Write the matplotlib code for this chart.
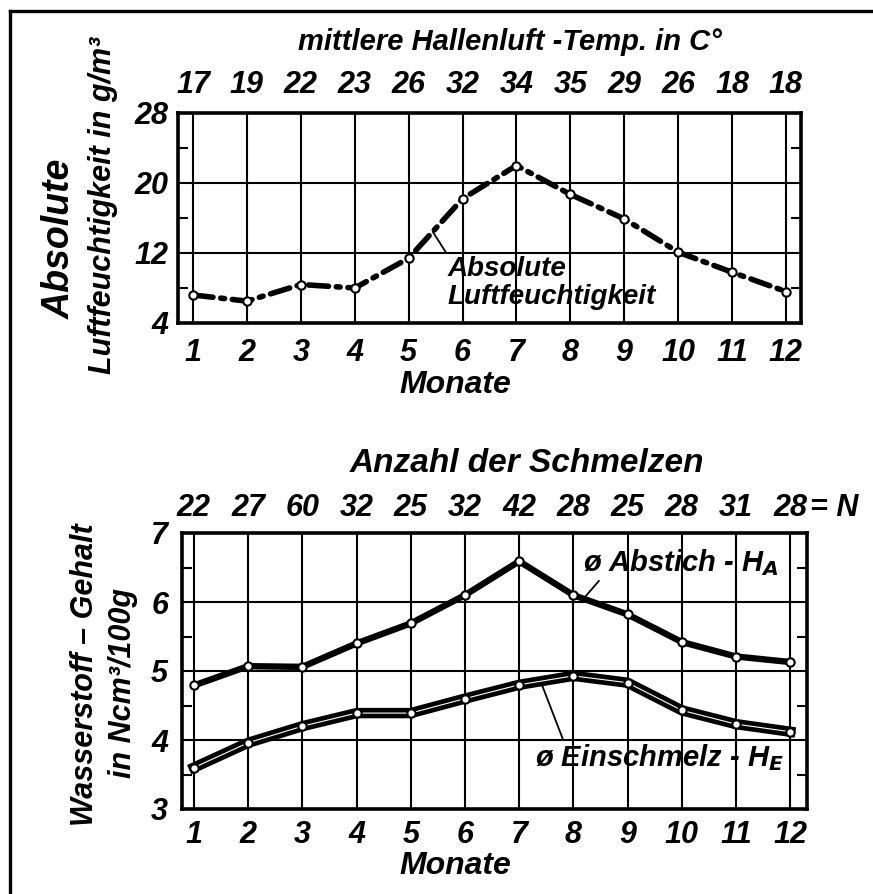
import matplotlib
matplotlib.use("Agg")
import matplotlib.pyplot as plt
from matplotlib.lines import Line2D

# Monthly values
months = list(range(1, 13))
hall_temp = ["17", "19", "22", "23", "26", "32", "34", "35", "29", "26", "18", "18"]
abs_humidity = [7.2, 6.5, 8.4, 8.0, 11.4, 18.2, 22.0, 18.7, 15.9, 12.1, 9.8, 7.6]
melt_count = ["22", "27", "60", "32", "25", "32", "42", "28", "25", "28", "31", "28"]
h_tap = [4.79, 5.07, 5.06, 5.40, 5.69, 6.10, 6.59, 6.10, 5.82, 5.42, 5.21, 5.13]
h_melt = [3.60, 3.96, 4.20, 4.39, 4.39, 4.60, 4.80, 4.93, 4.83, 4.43, 4.23, 4.12]

hum_ticks = [4, 12, 20, 28]
hum_minor = [8, 16, 24]
h_ticks = [3, 4, 5, 6, 7]
h_minor = [3.5, 4.5, 5.5, 6.5]

FAMILY = ["Liberation Sans Narrow", "Liberation Sans", "DejaVu Sans"]
plt.rcParams["font.family"] = FAMILY
plt.rcParams["font.weight"] = "bold"
plt.rcParams["font.style"] = "italic"
plt.rcParams["mathtext.fontset"] = "custom"
plt.rcParams["mathtext.rm"] = "Liberation Sans Narrow:bold:italic"
plt.rcParams["mathtext.it"] = "Liberation Sans Narrow:bold:italic"
plt.rcParams["mathtext.bf"] = "Liberation Sans Narrow:bold:italic"

W, H = 873, 894
TICK_SIZE = 22
fig = plt.figure(figsize=(W / 100, H / 100), dpi=100)


def px_rect(left, top, right, bottom):
    return [left / W, 1 - bottom / H, (right - left) / W, (bottom - top) / H]


def style(ax, xlim, ylim, yt, ym, xpad, ypad):
    ax.set_xlim(*xlim)
    ax.set_ylim(*ylim)
    ax.set_xticks(months)
    ax.set_yticks(yt)
    ax.set_yticks(ym, minor=True)
    ax.grid(True, which="major", color="black", linewidth=1.5)
    ax.set_axisbelow(True)
    for s in ax.spines.values():
        s.set_linewidth(2.6)
    ax.tick_params(axis="x", which="major", length=0, labelsize=TICK_SIZE, pad=xpad)
    ax.tick_params(axis="y", which="major", length=0, labelsize=TICK_SIZE, pad=ypad)
    ax.tick_params(axis="y", which="minor", direction="in", length=7,
                   width=1.5, left=True, right=True)


# Outer frame
fig.add_artist(Line2D([10 / W, 10 / W], [0, 1 - 11 / H], color="black", lw=2.4))
fig.add_artist(Line2D([10 / W, 1], [1 - 11 / H, 1 - 11 / H], color="black", lw=2.4))

# ---- Absolute humidity panel ----
ax1 = fig.add_axes(px_rect(178, 113, 801, 323))
style(ax1, (0.72, 12.28), (4, 28), hum_ticks, hum_minor, 11, 7)
ax1.plot(months, abs_humidity, color="black", lw=4.0,
         linestyle=(0, (3.6, 1.4, 0.7, 1.4)), dash_capstyle="round",
         marker="o", ms=6, mfc="white", mec="black", mew=1.5, zorder=3)
top1 = ax1.secondary_xaxis("top")
top1.set_xticks(months)
top1.set_xticklabels(hall_temp)
top1.tick_params(length=0, labelsize=TICK_SIZE, pad=9)
top1.spines["top"].set_visible(False)
ax1.annotate("Absolute\nLuftfeuchtigkeit", xy=(5.45, 14.4), xytext=(5.73, 11.7),
             ha="left", va="top", fontsize=20, linespacing=1.1,
             arrowprops=dict(arrowstyle="-", lw=1.3, color="black",
                             shrinkA=0, shrinkB=0, relpos=(0, 1)))

fig.text(510 / W, 1 - 42 / H, "mittlere Hallenluft -Temp. in C°",
         ha="center", va="center", fontsize=21)
fig.text(455 / W, 1 - 385 / H, "Monate", ha="center", va="center", fontsize=23)
fig.text(60 / W, 1 - 239 / H, "Absolute", rotation=90,
         ha="center", va="center", fontsize=27)
fig.text(103 / W, 1 - 205 / H, "Luftfeuchtigkeit in g/m³", rotation=90,
         ha="center", va="center", fontsize=22)

# ---- Hydrogen content panel ----
ax2 = fig.add_axes(px_rect(182, 533, 807, 809))
style(ax2, (0.78, 12.31), (3, 7), h_ticks, h_minor, 8, 10)
ax2.plot(months, h_tap, color="black", lw=4.6, solid_joinstyle="round",
         marker="o", ms=6, mfc="white", mec="black", mew=1.5, zorder=3)
# Melt-in hydrogen: heavy double line (black with a thin light core)
ax2.plot(months, h_melt, color="black", lw=7.5, solid_joinstyle="round", zorder=3)
ax2.plot(months, h_melt, color="white", lw=0.8, zorder=3)
ax2.plot(months, h_melt, ls="none", marker="o", ms=6, mfc="white",
         mec="black", mew=1.5, zorder=4)
top2 = ax2.secondary_xaxis("top")
top2.set_xticks(months)
top2.set_xticklabels(melt_count)
top2.tick_params(length=0, labelsize=TICK_SIZE, pad=7)
top2.spines["top"].set_visible(False)
ax2.annotate("= N", xy=(12, 1), xycoords=("data", "axes fraction"),
             xytext=(14, 7), textcoords="offset points",
             ha="left", va="bottom", fontsize=TICK_SIZE)

ax2.annotate(r"ø Abstich - H$_\mathrm{A}$", xy=(8.2, 6.06), xytext=(8.18, 6.57),
             ha="left", va="center", fontsize=21,
             arrowprops=dict(arrowstyle="-", lw=1.3, color="black",
                             shrinkA=0, shrinkB=0, relpos=(0.1, 0.05)))
ax2.annotate(r"ø Einschmelz - H$_\mathrm{E}$", xy=(7.42, 4.80), xytext=(7.29, 3.74),
             ha="left", va="center", fontsize=21,
             arrowprops=dict(arrowstyle="-", lw=1.3, color="black",
                             shrinkA=0, shrinkB=0, relpos=(0.12, 0.95)))

fig.text(527 / W, 1 - 463 / H, "Anzahl der Schmelzen",
         ha="center", va="center", fontsize=24)
fig.text(455 / W, 1 - 866 / H, "Monate", ha="center", va="center", fontsize=23)
fig.text(85 / W, 1 - 675 / H, "Wasserstoff – Gehalt", rotation=90,
         ha="center", va="center", fontsize=22)
fig.text(123 / W, 1 - 683 / H, "in Ncm³/100g", rotation=90,
         ha="center", va="center", fontsize=22)

fig.savefig("out.png", dpi=100)
